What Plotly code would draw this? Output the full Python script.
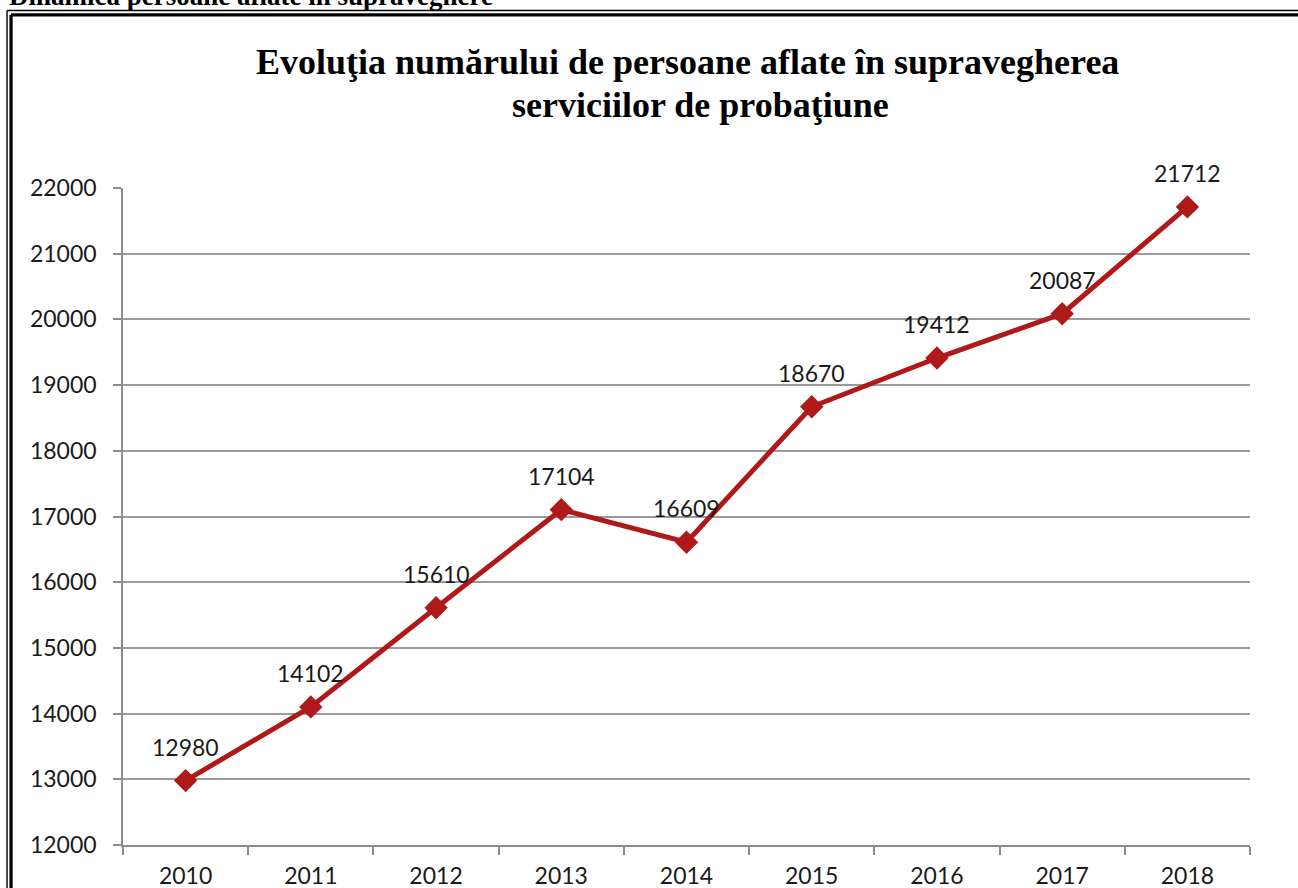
import plotly.graph_objects as go

years = ["2010", "2011", "2012", "2013", "2014", "2015", "2016", "2017", "2018"]
persons = [12980, 14102, 15610, 17104, 16609, 18670, 19412, 20087, 21712]
y_ticks = [12000, 13000, 14000, 15000, 16000, 17000, 18000, 19000, 20000, 21000, 22000]
y_tick_labels = [str(v) for v in y_ticks]

title_lines = ["Evoluţia numărului de persoane aflate în supravegherea", "serviciilor de probaţiune"]
header_text = "Dinamica persoane aflate în supraveghere"

W, H = 1298, 888
L, R, T, B = 122.5, 1250, 188, 845

def px(x):
    return (x - L) / (R - L)

def py(y):
    return (B - y) / (B - T)

RED = "#B0191A"
SANS = "Lato, sans-serif"
SERIF = "Liberation Serif, Times New Roman, serif"

fig = go.Figure()
fig.add_trace(go.Scatter(
    x=years, y=persons,
    mode="lines+markers",
    line=dict(color=RED, width=5),
    marker=dict(symbol="diamond", size=18, color=RED),
    cliponaxis=False,
    hoverinfo="skip",
))

annotations = [
    dict(x=i, y=v, xref="x", yref="y", text=str(v), showarrow=False,
         xanchor="center", yanchor="middle", yshift=34,
         font=dict(family=SANS, size=23, color="#1a1a1a"))
    for i, v in enumerate(persons)
]
annotations += [
    dict(text="<b>" + title_lines[0] + "</b>", xref="paper", yref="paper", x=px(687), y=py(62),
         xanchor="center", yanchor="middle", showarrow=False,
         font=dict(family=SERIF, size=36, color="black")),
    dict(text="<b>" + title_lines[1] + "</b>", xref="paper", yref="paper", x=px(700), y=py(105),
         xanchor="center", yanchor="middle", showarrow=False,
         font=dict(family=SERIF, size=36, color="black")),
    dict(text="<b>" + header_text + "</b>", xref="paper", yref="paper", x=px(6), y=py(13),
         xanchor="left", yanchor="bottom", showarrow=False,
         font=dict(family=SERIF, size=27, color="black")),
]

shapes = [
    dict(type="line", xref="paper", yref="paper", x0=px(6.5), x1=px(1310), y0=py(10.5), y1=py(10.5),
         line=dict(color="black", width=1.4)),
    dict(type="line", xref="paper", yref="paper", x0=px(6.5), x1=px(6.5), y0=py(10.5), y1=py(900),
         line=dict(color="black", width=1.4)),
    dict(type="line", xref="paper", yref="paper", x0=px(10.5), x1=px(1310), y0=py(14.8), y1=py(14.8),
         line=dict(color="black", width=3.2)),
    dict(type="line", xref="paper", yref="paper", x0=px(10.5), x1=px(10.5), y0=py(14.8), y1=py(900),
         line=dict(color="black", width=3.2)),
]

fig.update_layout(
    width=W, height=H,
    margin=dict(l=L, r=W - R, t=T, b=H - B, pad=0, autoexpand=False),
    paper_bgcolor="white", plot_bgcolor="white",
    showlegend=False,
    shapes=shapes,
    annotations=annotations,
    xaxis=dict(
        type="category", range=[-0.5, 8.5], automargin=False,
        showgrid=False, showline=True, linecolor="#8c8c8c", linewidth=1.5,
        ticks="outside", tickson="boundaries", ticklen=8, tickwidth=1.5, tickcolor="#8c8c8c",
        tickfont=dict(family=SANS, size=23, color="#1a1a1a"),
        ticklabelstandoff=10,
        zeroline=False,
    ),
    yaxis=dict(
        range=[12000, 22000], tickvals=y_ticks, ticktext=y_tick_labels, automargin=False,
        showgrid=True, gridcolor="#9a9a9a", gridwidth=1.5,
        showline=True, linecolor="#8c8c8c", linewidth=1.5,
        ticks="outside", ticklen=8, tickwidth=1.5, tickcolor="#8c8c8c",
        tickfont=dict(family=SANS, size=23, color="#1a1a1a"),
        ticklabelstandoff=12,
        zeroline=False,
    ),
)

fig.write_html("out.html", config={"displayModeBar": False},
               post_script="document.body.style.margin='0';")
